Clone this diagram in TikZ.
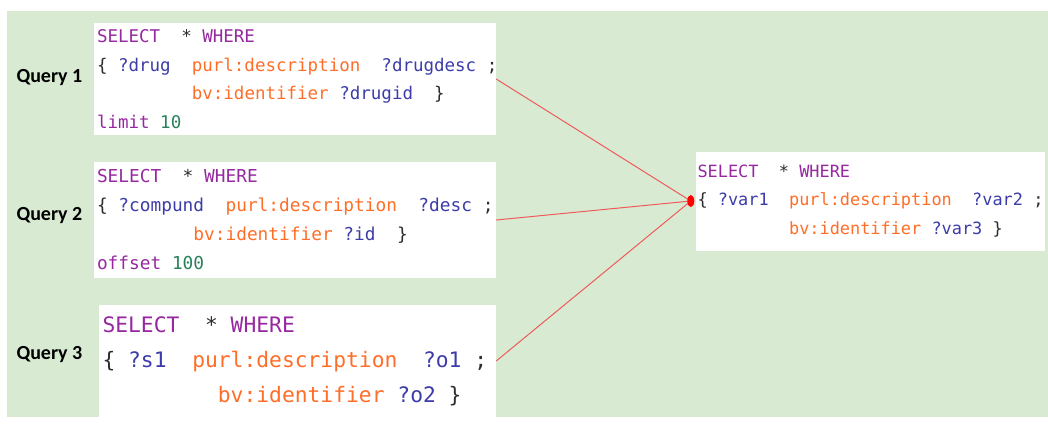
\documentclass[tikz,border=0pt]{standalone}
\usepackage{fontspec}
\usetikzlibrary{shapes.geometric}
\newfontfamily\codefont{DejaVu Sans Mono}[Ligatures=NoCommon]
\newfontfamily\labelfont{Carlito}
\definecolor{bggreen}{RGB}{217,234,211}
\definecolor{kwpurple}{RGB}{150,40,160}
\definecolor{predorange}{RGB}{255,110,40}
\definecolor{varblue}{RGB}{60,60,170}
\definecolor{numgreen}{RGB}{40,130,90}
\definecolor{punctgray}{RGB}{45,45,45}
\definecolor{linkred}{RGB}{240,90,90}
\newcommand{\sqkw}[1]{\textcolor{kwpurple}{#1}}
\newcommand{\sqpred}[1]{\textcolor{predorange}{#1}}
\newcommand{\sqvar}[1]{\textcolor{varblue}{#1}}
\newcommand{\sqnum}[1]{\textcolor{numgreen}{#1}}
\newcommand{\sqs}{\hspace*{0.602em}}
\newcommand{\sqtab}{\phantom{123456789}}
\tikzset{
  codebox/.style={fill=white, inner xsep=3pt, inner ysep=0pt, align=left, text=punctgray},
  qlabel/.style={font=\labelfont\bfseries\fontsize{20}{22}\selectfont, anchor=west},
  link/.style={draw=linkred, line width=1pt},
  hub/.style={ellipse, fill=red, minimum width=7pt, minimum height=12pt, inner sep=0pt}
}
\begin{document}
\begin{tikzpicture}[x=1pt,y=-1pt]
\useasboundingbox (0,0) rectangle (1048,424);
\fill[bggreen] (7,11) rectangle (1048,417);

\node[codebox,minimum width=402pt,minimum height=112pt,text width=396pt,
  font=\codefont\fontsize{17.5}{28.5}\selectfont] (q1) at (295,79) {%
\sqkw{SELECT}\sqs\sqs*\sqs\sqkw{WHERE}\\
\{\sqs\sqvar{?drug}\sqs\sqs\sqpred{purl:description}\sqs\sqs\sqvar{?drugdesc}\sqs;\\
\sqtab\sqpred{bv:identifier}\sqs\sqvar{?drugid}\sqs\sqs\}\\
\sqkw{limit}\sqs\sqnum{10}};

\node[codebox,minimum width=402pt,minimum height=116pt,text width=396pt,
  font=\codefont\fontsize{17.8}{29}\selectfont] (q2) at (295,220) {%
\sqkw{SELECT}\sqs\sqs*\sqs\sqkw{WHERE}\\
\{\sqs\sqvar{?compund}\sqs\sqs\sqpred{purl:description}\sqs\sqs\sqvar{?desc}\sqs;\\
\sqtab\sqpred{bv:identifier}\sqs\sqvar{?id}\sqs\sqs\}\\
\sqkw{offset}\sqs\sqnum{100}};

\node[codebox,minimum width=397pt,minimum height=112pt,text width=390pt,inner xsep=3.5pt,
  font=\codefont\fontsize{21.3}{35}\selectfont] (q3) at (297.5,361) {%
\sqkw{SELECT}\sqs\sqs*\sqs\sqkw{WHERE}\\
\{\sqs\sqvar{?s1}\sqs\sqs\sqpred{purl:description}\sqs\sqs\sqvar{?o1}\sqs;\\
\sqtab\sqpred{bv:identifier}\sqs\sqvar{?o2}\sqs\}};

\node[codebox,minimum width=349pt,minimum height=99pt,text width=346pt,inner xsep=1.5pt,
  font=\codefont\fontsize{16.9}{28.5}\selectfont] (merged) at (870.5,201) {%
\sqkw{SELECT}\sqs\sqs*\sqs\sqkw{WHERE}\\
\{\sqs\sqvar{?var1}\sqs\sqs\sqpred{purl:description}\sqs\sqs\sqvar{?var2}\sqs;\\
\sqtab\sqpred{bv:identifier}\sqs\sqvar{?var3}\sqs\}};

\node[qlabel] (l1) at (13,78) {Query 1};
\node[qlabel] (l2) at (13,216) {Query 2};
\node[qlabel] (l3) at (13,355) {Query 3};

\coordinate (hubpt) at ([xshift=-5pt]merged.west);
\draw[link] (q1.east) -- (hubpt);
\draw[link] (q2.east) -- (hubpt);
\draw[link] (q3.east) -- (hubpt);
\node[hub] (hub) at (hubpt) {};
\end{tikzpicture}
\end{document}
